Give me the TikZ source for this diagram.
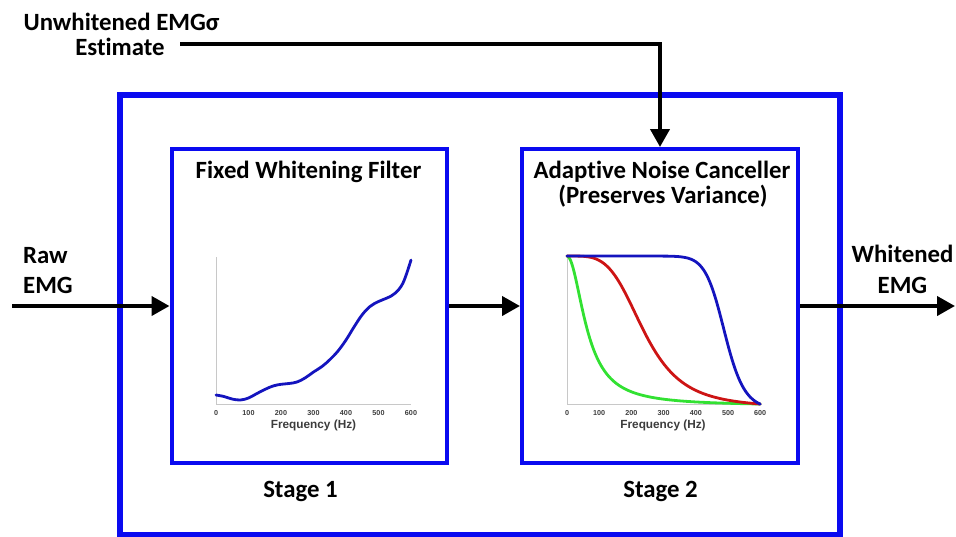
\documentclass[tikz,border=0pt]{standalone}
\usepackage{fontspec}
\setmainfont{Carlito}[Ligatures=NoCommon]
\newfontfamily\plotfont{Liberation Sans}
\usetikzlibrary{arrows.meta}
\definecolor{boxblue}{RGB}{10,10,240}
\definecolor{curveblue}{RGB}{20,20,190}
\definecolor{curvered}{RGB}{205,20,20}
\definecolor{curvegreen}{RGB}{50,225,50}
\definecolor{axisgray}{RGB}{200,200,200}
\definecolor{ticktext}{RGB}{60,60,60}
\tikzset{
  outerbox/.style={draw=boxblue, line width=6pt, inner sep=0pt},
  stagebox/.style={draw=boxblue, line width=4pt, inner sep=0pt},
  flow/.style={line width=4pt, -{Triangle[length=18pt,width=19pt]}},
  lbl/.style={font=\bfseries\fontsize{24.8}{25}\selectfont, inner sep=0pt, anchor=base},
  ticklbl/.style={font=\plotfont\bfseries\fontsize{7.2}{8}\selectfont, text=ticktext, inner sep=0pt},
  axlbl/.style={font=\plotfont\bfseries\fontsize{11.8}{13}\selectfont, text=ticktext, inner sep=0pt},
  axisline/.style={draw=axisgray, line width=1pt},
  curve/.style={line width=2.8pt, line cap=round, line join=round}
}
\begin{document}
\begin{tikzpicture}[x=1pt,y=-1pt]
\useasboundingbox (0,0) rectangle (956,536);
% boxes
\node (outer) [outerbox, minimum width=720pt, minimum height=439.5pt] at (480,314.75) {};
\node (box1) [stagebox, minimum width=275.5pt, minimum height=313.5pt] at (309.25,305.75) {};
\node (box2) [stagebox, minimum width=276pt, minimum height=313.5pt] at (660,305.75) {};
% titles
\node (t1) [lbl] at (308.5,178.3) {Fixed Whitening Filter};
\node (t2a) [lbl] at (662,178.3) {Adaptive Noise Canceller};
\node (t2b) [lbl] at (663,203.3) {(Preserves Variance)};
\node (s1) [lbl] at (300.5,497) {Stage 1};
\node (s2) [lbl] at (660.5,497.5) {Stage 2};
\node (u1) [lbl] at (121.5,30) {Unwhitened EMGσ};
\node (u2) [lbl] at (120,55) {Estimate};
\node (r1) [lbl, anchor=base west] at (23,263) {Raw};
\node (r2) [lbl, anchor=base west] at (23,293) {EMG};
\node (w1) [lbl] at (902.5,262) {Whitened};
\node (w2) [lbl] at (902.5,293) {EMG};
% connectors
\coordinate (rawstart) at (12,306);
\coordinate (outend) at (955,306);
\coordinate (eststart) at (180,44);
\draw[flow] (rawstart) -- (box1.west |- rawstart);
\draw[flow] (box1.east |- rawstart) -- (box2.west |- rawstart);
\draw[flow] (box2.east |- rawstart) -- (outend);
\draw[flow] (eststart) -| (box2.north);
% plot 1
\coordinate (p1o) at (216,404);
\draw[axisline] (216,257) -- (p1o) -- (411,404);
\foreach \v in {0,100,...,600} {
  \node[ticklbl] at ({216+\v*0.325},413) {\v};
}
\node (f1) [axlbl] at (313.5,425) {Frequency (Hz)};
\draw[curve, curveblue] plot[smooth, tension=0.6] coordinates {
 (216,395) (224,396.5) (232,399) (240.4,400) (248.5,398) (256,394) (264.75,389.5)
 (273,386) (281,384.3) (289,383.5) (297,382) (305,378) (313.5,372) (322,366.5) (330,359.5)
 (338,351) (346,340) (354,327) (362,315) (370,306.5) (378.5,301.5) (387,298) (394.75,293.5)
 (403,283) (411,260)};
% plot 2
\coordinate (p2o) at (567,404);
\draw[axisline] (567,256) -- (p2o) -- (760,404);
\foreach \v in {0,100,...,600} {
  \node[ticklbl] at ({567+\v*0.322},413) {\v};
}
\node (f2) [axlbl] at (663,425) {Frequency (Hz)};
\draw[curve, curvegreen] plot[domain=0:600, samples=120, smooth]
  ({567+\x*0.322}, {404-148*((1/(1+(\x/64)^2)-0.01125)/(1-0.01125))});
\draw[curve, curvered] plot[domain=0:600, samples=120, smooth]
  ({567+\x*0.322}, {404-148*((1/(1+(\x/240)^4)-0.0250)/(1-0.0250))});
\draw[curve, curveblue] plot[domain=0:600, samples=150, smooth]
  ({567+\x*0.322}, {404-148*((1/(1+(\x/490)^16)-0.0385)/(1-0.0385))});
\end{tikzpicture}
\end{document}
